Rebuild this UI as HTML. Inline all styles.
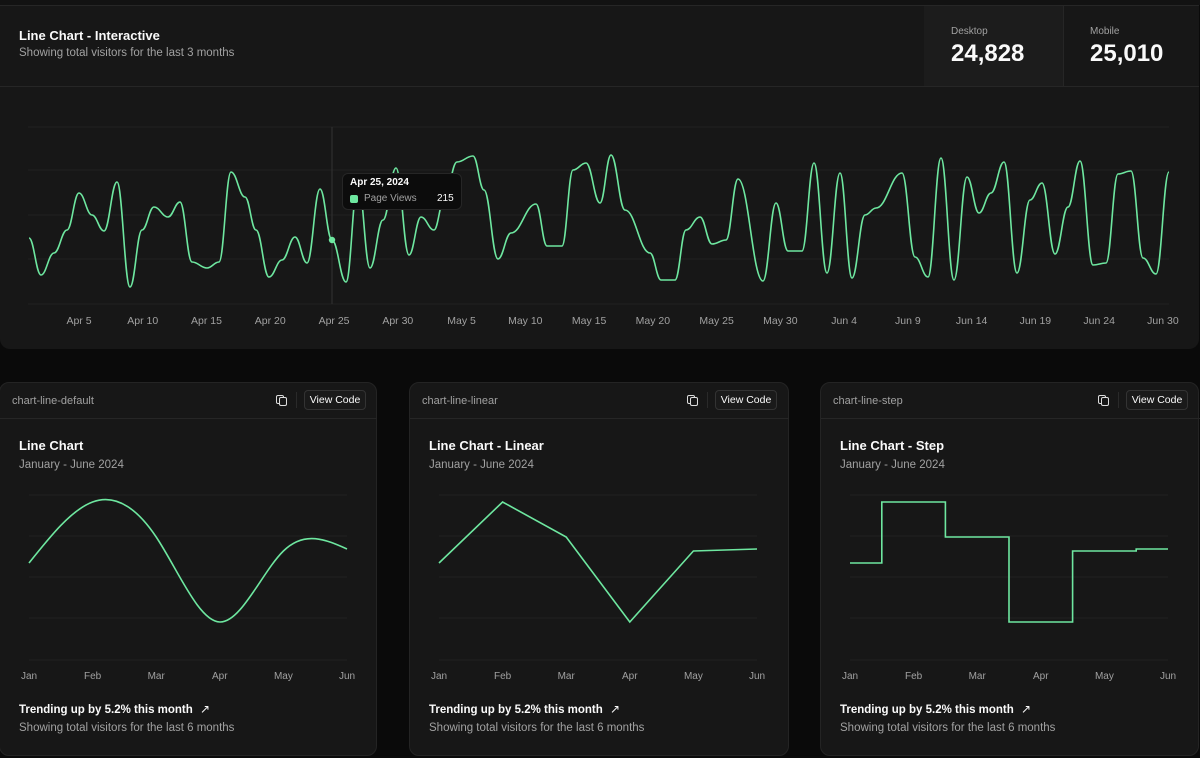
<!DOCTYPE html>
<html><head><meta charset="utf-8">
<style>
*{margin:0;padding:0;box-sizing:border-box}
body{width:1200px;height:758px;background:#0a0a0a;font-family:"Liberation Sans",sans-serif;position:relative;overflow:hidden;color:#fafafa}
.abs{position:absolute}
.card{position:absolute;background:#171717;border:1px solid #242424;border-radius:10px}
.gray{color:#a1a1a1}
svg{position:absolute;left:0;top:0}
</style></head><body>
<div class="abs" style="left:0;top:0;width:1200px;height:5px;background:#121212"></div>
<div class="abs" style="left:0;top:5px;width:1199px;height:344px;background:#171717;border-top:1px solid #262626;border-radius:0 0 10px 10px"></div>
<div class="abs" style="left:924px;top:6px;width:139px;height:80px;background:#1c1c1c"></div>
<div class="abs" style="left:1063px;top:6px;width:1px;height:80px;background:#262626"></div>
<div class="abs" style="left:0;top:86px;width:1199px;height:1px;background:#262626"></div>
<div class="abs" style="left:19px;top:28px;font-size:13px;font-weight:bold">Line Chart - Interactive</div>
<div class="abs gray" style="left:19px;top:47px;font-size:11.5px">Showing total visitors for the last 3 months</div>
<div class="abs gray" style="left:951px;top:26px;font-size:10px">Desktop</div>
<div class="abs" style="left:951px;top:40px;font-size:24px;font-weight:bold">24,828</div>
<div class="abs gray" style="left:1090px;top:26px;font-size:10px">Mobile</div>
<div class="abs" style="left:1090px;top:40px;font-size:24px;font-weight:bold">25,010</div>

<div class="card" style="left:-1px;top:382px;width:378px;height:374px"></div>
<div class="card" style="left:409px;top:382px;width:380px;height:374px"></div>
<div class="card" style="left:820px;top:382px;width:379px;height:374px"></div>
<div id="cards"></div>

<svg width="1200" height="758" id="s"></svg>

<div class="abs" style="left:342px;top:173px;width:120px;height:37px;background:#0c0c0c;border:1px solid #262626;border-radius:6px"></div>
<div class="abs" style="left:350px;top:177px;font-size:10px;font-weight:bold">Apr 25, 2024</div>
<div class="abs" style="left:350px;top:195px;width:8px;height:8px;background:#6ee7a0;border-radius:2px"></div>
<div class="abs gray" style="left:364px;top:193px;font-size:10px">Page Views</div>
<div class="abs" style="left:437px;top:193px;font-size:10px">215</div>

<script>
const G="#6ee7a0";
let s=document.getElementById('s');let h='';
function smooth(p){let d='M'+p[0][0]+','+p[0][1];for(let i=1;i<p.length;i++){let [x0,y0]=p[i-1],[x1,y1]=p[i],dx=(x1-x0)/2.4;d+=` C${x0+dx},${y0} ${x1-dx},${y1} ${x1},${y1}`;}return d;}
[127,170,215,259,304].forEach(y=>h+=`<line x1="28" x2="1169" y1="${y}" y2="${y}" stroke="#202020"/>`);
h+=`<line x1="332" x2="332" y1="127" y2="304" stroke="#333"/>`;
const P=[[29,238],[41,275],[54,253],[67,230],[79,193],[92,215],[104,231],[117,182],[130,287],[142,230],[154,207],[168,217],[180,202],[192,262],[207,268],[219,262],[231,172],[245,197],[256,230],[269,277],[282,260],[295,237],[307,263],[320,189],[332,240],[346,282],[358,182],[370,268],[383,220],[396,168],[409,255],[421,217],[434,230],[444,200],[457,162],[473,156],[484,190],[498,259],[511,233],[536,204],[547,246],[562,246],[573,170],[586,163],[600,203],[611,155],[625,210],[650,253],[661,280],[675,280],[686,230],[700,217],[712,244],[726,240],[738,179],[763,281],[776,203],[788,251],[802,251],[814,163],[827,273],[840,173],[852,278],[865,215],[876,208],[902,173],[915,257],[928,277],[941,158],[954,280],[967,177],[979,213],[991,193],[1004,162],[1017,273],[1030,200],[1042,183],[1055,254],[1068,207],[1080,161],[1093,265],[1106,263],[1118,174],[1131,171],[1143,258],[1156,274],[1169,172]];
h+=`<path d="${smooth(P)}" fill="none" stroke="${G}" stroke-width="1.6"/>`;
h+=`<circle cx="332" cy="240" r="3.2" fill="${G}"/>`;
const L=['Apr 5','Apr 10','Apr 15','Apr 20','Apr 25','Apr 30','May 5','May 10','May 15','May 20','May 25','May 30','Jun 4','Jun 9','Jun 14','Jun 19','Jun 24','Jun 30'];
L.forEach((t,i)=>h+=`<text x="${79+i*63.76}" y="324" fill="#a1a1a1" font-size="10.5" text-anchor="middle" font-family="Liberation Sans">${t}</text>`);
const cards=[{x:0,name:'chart-line-default',title:'Line Chart',type:'n'},{x:410,name:'chart-line-linear',title:'Line Chart - Linear',type:'l'},{x:821,name:'chart-line-step',title:'Line Chart - Step',type:'s'}];
const V=[563,502,537,622,551,549];
let c='';
cards.forEach(k=>{const o=k.x;const r=o+(k.x==0?377:378);
c+=`<div class="abs gray" style="left:${o+12}px;top:395px;font-size:11px">${k.name}</div>`;
c+=`<div class="abs" style="left:${r-73}px;top:390px;width:62px;height:20px;border:1px solid #333;border-radius:4px;background:#1a1a1a;font-size:10.5px;text-align:center;line-height:18px">View Code</div>`;
c+=`<div class="abs" style="left:${r-81}px;top:392px;width:1px;height:16px;background:#2a2a2a"></div>`;
c+=`<div class="abs" style="left:${r-101}px;top:395px;width:8px;height:9px;border:1.3px solid #ddd;border-radius:2px"></div><div class="abs" style="left:${r-98}px;top:397px;width:8px;height:9px;border:1.3px solid #ddd;border-radius:2px;background:#171717"></div>`;
c+=`<div class="abs" style="left:${o}px;top:418px;width:${k.x==0?377:379}px;height:1px;background:#262626"></div>`;
c+=`<div class="abs" style="left:${o+19}px;top:438px;font-size:13px;font-weight:bold">${k.title}</div>`;
c+=`<div class="abs gray" style="left:${o+19}px;top:459px;font-size:11.5px">January - June 2024</div>`;
c+=`<div class="abs" style="left:${o+19}px;top:702px;font-size:11.5px;font-weight:600">Trending up by 5.2% this month <span style="font-weight:normal;font-size:12px;margin-left:4px">&#x2197;</span></div>`;
c+=`<div class="abs gray" style="left:${o+19}px;top:722px;font-size:11.5px">Showing total visitors for the last 6 months</div>`;
const x0=o+29,x1=o+347,w=(x1-x0)/5;
[495,536,577,618,660].forEach(y=>h+=`<line x1="${x0}" x2="${x1}" y1="${y}" y2="${y}" stroke="#202020"/>`);
['Jan','Feb','Mar','Apr','May','Jun'].forEach((t,i)=>h+=`<text x="${x0+i*w}" y="679" fill="#a1a1a1" font-size="10" text-anchor="middle" font-family="Liberation Sans">${t}</text>`);
const pts=V.map((v,i)=>[x0+i*w,v]);let d;
if(k.type=='l'){d='M'+pts.map(p=>p.join(',')).join(' L');}
else if(k.type=='s'){d='M'+pts[0][0]+','+pts[0][1];for(let i=1;i<6;i++){let m=(pts[i-1][0]+pts[i][0])/2;d+=` H${m} V${pts[i][1]}`;}d+=` H${pts[5][0]}`;}
else{const n=5;let xs=pts.map(p=>p[0]),ys=pts.map(p=>p[1]);let a=[],b=[],cc=[],r2=[];
a[0]=0;b[0]=2;cc[0]=1;r2[0]=ys[0]+2*ys[1];
for(let i=1;i<n-1;i++){a[i]=1;b[i]=4;cc[i]=1;r2[i]=4*ys[i]+2*ys[i+1];}
a[n-1]=2;b[n-1]=7;r2[n-1]=8*ys[n-1]+ys[n];
for(let i=1;i<n;i++){let m=a[i]/b[i-1];b[i]-=m;r2[i]-=m*r2[i-1];}
let A=[];A[n-1]=r2[n-1]/b[n-1];for(let i=n-2;i>=0;i--)A[i]=(r2[i]-cc[i]*A[i+1])/b[i];
let B=[];B[n-1]=(ys[n]+A[n-1])/2;for(let i=0;i<n-1;i++)B[i]=2*ys[i+1]-A[i+1];
d='M'+xs[0]+','+ys[0];for(let i=0;i<n;i++){d+=` C${xs[i]+w/3},${A[i]} ${xs[i+1]-w/3},${B[i]} ${xs[i+1]},${ys[i+1]}`;}}
h+=`<path d="${d}" fill="none" stroke="${G}" stroke-width="1.6"/>`;});
document.getElementById('cards').innerHTML=c;
s.innerHTML=h;
</script>
</body></html>
